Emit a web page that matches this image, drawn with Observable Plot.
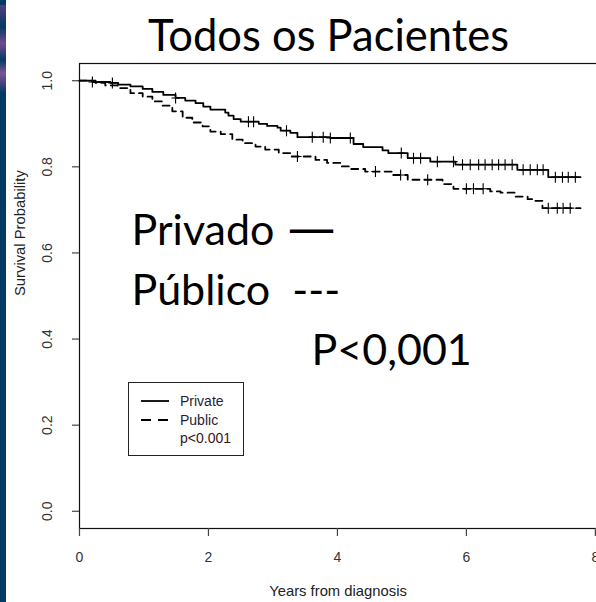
<!DOCTYPE html>
<html>
<head>
<meta charset="utf-8">
<script src="https://cdn.jsdelivr.net/npm/d3@7"></script>
<script src="https://cdn.jsdelivr.net/npm/@observablehq/plot@0.6"></script>
<style>
  html, body { margin: 0; padding: 0; background: #fff; }
  #wrap { position: relative; width: 596px; height: 602px; overflow: hidden; background: #fff; }
  #strip { position: absolute; left: 0; top: 0; width: 6px; height: 602px; background: #023a63; }
  #strip2 { position: absolute; left: 0; top: 5px; width: 6px; height: 110px;
    background: linear-gradient(180deg, #6a3d86 0%, #023a63 20%, #8a4f9a 35%, #023a63 50%, #a05aa0 62%, #023a63 80%); opacity: .8; }
  #chart { position: absolute; left: 0; top: 0; width: 620px; height: 602px; }
  #chart svg { max-width: none !important; width: 620px; height: 602px; }
  #legend { position: absolute; left: 128px; top: 382px; width: 114px; height: 72px;
    border: 1px solid #222; background: #fff; font-family: "Liberation Sans", Arial, sans-serif; font-size: 14px; }
  #legend .row { position: absolute; left: 0; height: 16px; line-height: 16px; }
  #legend svg { position: absolute; left: 12px; }
  #legend span { position: absolute; left: 51px; white-space: nowrap; }
</style>
</head>
<body>
<div id="wrap">
  <div id="chart"></div>
  <div id="strip"></div>
  <div id="strip2"></div>
  <div id="legend"></div>
</div>
<script>
// ---- data ----
const privateTimes = [0, 0.20, 0.48, 0.60, 0.79, 0.98, 1.13, 1.30, 1.49, 1.64, 1.80, 1.92, 2.03, 2.26, 2.31, 2.39, 2.50, 2.78, 2.91, 3.07, 3.12, 3.27, 3.38, 3.89, 4.25, 4.40, 4.70, 4.79, 5.09, 5.44, 5.83, 6.79, 7.27, 7.77];
const privateSurv  = [1.0, 0.997, 0.995, 0.991, 0.987, 0.981, 0.974, 0.967, 0.960, 0.954, 0.948, 0.940, 0.933, 0.926, 0.919, 0.911, 0.905, 0.900, 0.895, 0.891, 0.884, 0.879, 0.869, 0.867, 0.853, 0.846, 0.838, 0.832, 0.820, 0.812, 0.805, 0.793, 0.776, 0.776];
const publicTimes  = [0, 0.25, 0.40, 0.59, 0.79, 0.98, 1.13, 1.29, 1.44, 1.60, 1.75, 1.91, 2.03, 2.19, 2.37, 2.53, 2.73, 2.88, 3.09, 3.27, 3.66, 3.84, 4.05, 4.20, 4.43, 4.85, 5.09, 5.63, 5.80, 6.37, 6.53, 6.76, 6.95, 7.04, 7.18, 7.77];
const publicSurv   = [1.0, 0.995, 0.989, 0.983, 0.971, 0.963, 0.952, 0.942, 0.929, 0.914, 0.903, 0.894, 0.882, 0.876, 0.863, 0.855, 0.847, 0.840, 0.832, 0.824, 0.816, 0.809, 0.801, 0.795, 0.789, 0.781, 0.770, 0.760, 0.749, 0.743, 0.740, 0.731, 0.725, 0.721, 0.704, 0.704];
const privateCensor = [0.20, 0.51, 1.49, 2.62, 2.70, 3.21, 3.61, 3.78, 3.89, 4.20, 4.99, 5.18, 5.29, 5.55, 5.80, 5.94, 6.06, 6.19, 6.29, 6.40, 6.50, 6.60, 6.71, 6.88, 6.99, 7.10, 7.19, 7.38, 7.49, 7.58, 7.69];
const publicCensor  = [3.38, 4.59, 4.98, 5.40, 6.00, 6.11, 6.26, 7.27, 7.41, 7.50, 7.61];
const xTicks = [0, 2, 4, 6, 8];
const yTicks = [0, 0.2, 0.4, 0.6, 0.8, 1.0];
const seriesNames = ["Private", "Public"];
const titleText = "Todos os Pacientes";
const xLabel = "Years from diagnosis";
const yLabel = "Survival Probability";
const overlayTexts = ["Privado", "\u2014", "P\u00fablico\u00a0\u00a0---", "P<0,001"];
const legendTexts = ["Private", "Public", "p<0.001"];

// ---- derived tables ----
const steps = (times, surv, name) => times.map((t, i) => ({t, s: surv[i], name}));
const privateSteps = steps(privateTimes, privateSurv, seriesNames[0]);
const publicSteps = steps(publicTimes, publicSurv, seriesNames[1]);
const stepAt = (times, surv, t) => surv[Math.max(0, d3.bisectRight(times, t) - 1)];
const censor = (ct, times, surv) => ct.map(t => ({t, s: stepAt(times, surv, t)}));
const privateMarks = censor(privateCensor, privateTimes, privateSurv);
const publicMarks = censor(publicCensor, publicTimes, publicSurv);

const plusSymbol = {
  draw(ctx, size) {
    const r = Math.sqrt(size / Math.PI);
    ctx.moveTo(0, -r); ctx.lineTo(0, r);
    ctx.moveTo(-r * 0.75, 0); ctx.lineTo(r * 0.75, 0);
  }
};

const big = {fontFamily: "Lato, 'Open Sans', sans-serif", fill: "#000"};

const chart = Plot.plot({
  width: 620, height: 602,
  marginLeft: 79, marginRight: 20, marginTop: 63, marginBottom: 74,
  x: {domain: [0, 8.08]},
  y: {domain: [-0.04, 1.04]},
  style: {fontFamily: "'Liberation Sans', Arial, sans-serif", background: "transparent", overflow: "visible", maxWidth: "none"},
  marks: [
    Plot.frame({stroke: "#111", strokeWidth: 1.2}),
    Plot.axisX({ticks: xTicks, tickSize: 8, tickFormat: () => "", label: null, stroke: "#444", strokeWidth: 1.2}),
    Plot.axisY({ticks: yTicks, tickSize: 7, tickFormat: () => "", label: null, stroke: "#444", strokeWidth: 1.2}),
    Plot.text(xTicks, {x: d => d, frameAnchor: "bottom", dy: 29, lineAnchor: "middle", text: d => String(d), fontSize: 14, fill: "#333"}),
    Plot.text(yTicks, {y: d => d, frameAnchor: "left", dx: -32, rotate: -90, textAnchor: "middle", lineAnchor: "middle", text: d => d.toFixed(1), fontSize: 14, fill: "#333"}),
    Plot.text([xLabel], {frameAnchor: "bottom", dy: 63, dx: -2, lineAnchor: "middle", fontSize: 14.8, fill: "#222"}),
    Plot.text([yLabel], {frameAnchor: "left", dx: -59, rotate: -90, lineAnchor: "middle", fontSize: 14.8, fill: "#222"}),
    Plot.line(privateSteps, {x: "t", y: "s", curve: "step-after", stroke: "#000", strokeWidth: 1.8}),
    Plot.line(publicSteps, {x: "t", y: "s", curve: "step-after", stroke: "#000", strokeWidth: 1.8, strokeDasharray: "7,5"}),
    Plot.dot(privateMarks, {x: "t", y: "s", symbol: plusSymbol, r: 5.5, stroke: "#000", strokeWidth: 1.1, fill: "none"}),
    Plot.dot(publicMarks, {x: "t", y: "s", symbol: plusSymbol, r: 5.5, stroke: "#000", strokeWidth: 1.1, fill: "none"}),
    Plot.text([titleText], {frameAnchor: "top", dx: -11.5, dy: -13, lineAnchor: "bottom", fontSize: 43.5, ...big}),
    Plot.text([overlayTexts[0]], {frameAnchor: "top-left", dx: 52, dy: 181, textAnchor: "start", lineAnchor: "bottom", fontSize: 43, ...big}),
    Plot.text([overlayTexts[1]], {frameAnchor: "top-left", dx: 208, dy: 181, textAnchor: "start", lineAnchor: "bottom", fontSize: 48, fontFamily: "'DejaVu Sans', sans-serif", fill: "#000"}),
    Plot.text([overlayTexts[2]], {frameAnchor: "top-left", dx: 52, dy: 241, textAnchor: "start", lineAnchor: "bottom", fontSize: 43, ...big}),
    Plot.text([overlayTexts[3]], {frameAnchor: "top-left", dx: 232, dy: 301, textAnchor: "start", lineAnchor: "bottom", fontSize: 43, ...big})
  ]
});
document.getElementById("chart").appendChild(chart);

// ---- legend ----
const legend = document.getElementById("legend");
const rows = [
  {text: legendTexts[0], top: 10, dash: null, color: "#1d1d3a"},
  {text: legendTexts[1], top: 29, dash: "10,7", color: "#1d1d3a"},
  {text: legendTexts[2], top: 47, dash: "none", color: "#3a1414"}
];
rows.forEach(r => {
  const row = document.createElement("div");
  row.className = "row";
  row.style.top = r.top + "px";
  row.style.width = "110px";
  if (r.dash !== "none") {
    const s = d3.create("svg").attr("width", 30).attr("height", 16);
    s.append("line").attr("x1", 0).attr("x2", 28).attr("y1", 8).attr("y2", 8)
      .attr("stroke", "#000").attr("stroke-width", 1.8)
      .attr("stroke-dasharray", r.dash || null);
    row.appendChild(s.node());
  }
  const sp = document.createElement("span");
  sp.textContent = r.text;
  sp.style.color = r.color;
  row.appendChild(sp);
  legend.appendChild(row);
});
</script>
</body>
</html>
